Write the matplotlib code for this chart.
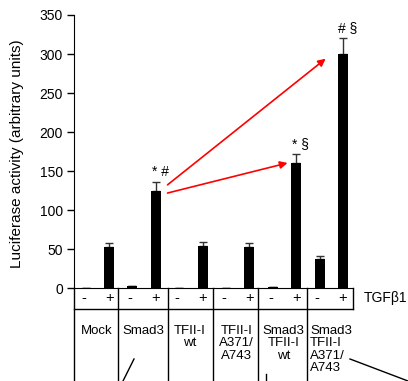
import numpy as np
import matplotlib.pyplot as plt
from matplotlib.lines import Line2D

plt.rcParams['font.family'] = ['Liberation Sans', 'DejaVu Sans']

# --- data ---
conditions = ['Mock', 'Smad3', 'TFII-I\nwt', 'TFII-I\nA371/\nA743',
              'Smad3\nTFII-I\nwt', 'Smad3\nTFII-I\nA371/\nA743']
tgf_minus = [0.5, 2.5, 1.0, 1.0, 2.0, 37]
tgf_plus = [52.5, 124, 54, 53, 160.5, 300.5]
err_minus = [0, 0, 0, 0, 0, 4]
err_plus = [5, 11.5, 5, 4.5, 11.5, 20]
marks = ['', '* #', '', '', '* §', '# §']
yticks = [0, 50, 100, 150, 200, 250, 300, 350]

n = len(conditions)
values = np.ravel(np.column_stack([tgf_minus, tgf_plus]))
errors = np.ravel(np.column_stack([err_minus, err_plus]))
xpos = np.arange(2 * n)

fig = plt.figure(figsize=(4.08, 3.81), dpi=100)
ax = fig.add_axes([74 / 408, 1 - 288.3 / 381, 304 / 408, 273.3 / 381])

ax.bar(xpos, values, width=0.43, color='black', zorder=2)
ax.errorbar(xpos, values, yerr=[np.zeros_like(errors), errors], fmt='none',
            ecolor='#333333', elinewidth=1, capsize=3, capthick=1, zorder=1)

ax.set_xlim(-0.5, 12.5)
ax.set_ylim(0, 350)
ax.set_yticks(yticks)
ax.set_xticks([])
ax.tick_params(axis='y', length=5, width=1, labelsize=10, pad=3)
for s in ['top', 'right']:
    ax.spines[s].set_visible(False)
ax.spines['bottom'].set_bounds(-0.5, 11.45)
ax.set_ylabel('Luciferase activity (arbitrary units)', fontsize=11)
ax.yaxis.set_label_coords(-0.165, 0.493)

# significance marks
for i, m in enumerate(marks):
    if m:
        x = 2 * i + 1
        ax.text(x + 0.2, values[x] + errors[x] + 4, m, ha='center', va='bottom',
                fontsize=10)

# red arrows
arr = dict(arrowstyle='-|>', color='red', lw=1.2, mutation_scale=11,
           shrinkA=0, shrinkB=0)
ax.annotate('', xy=(10.26, 294), xytext=(3.5, 132.5), arrowprops=arr)
ax.annotate('', xy=(8.63, 160.5), xytext=(3.5, 122), arrowprops=arr)

# table under the axis
kw = dict(color='black', lw=1, clip_on=False)
row1, bottom = -26.3, -120
ax.plot([-0.5, 11.45], [row1, row1], **kw)
ax.plot([11.45, 11.45], [0, row1], **kw)
bounds = [-0.5, 1.4, 3.5, 5.45, 7.35, 9.45]
for b in bounds:
    ax.plot([b, b], [0, bottom], **kw)
for k, x in enumerate(xpos):
    ax.text(x - 0.1 * (k % 2 == 0), -12.5, '-' if k % 2 == 0 else '+',
            ha='center', va='center', fontsize=10.5, clip_on=False)
ax.text(11.88, -12.5, 'TGFβ1', ha='left', va='center', fontsize=10,
        clip_on=False)
for i, lab in enumerate(conditions):
    if i == n - 1:
        ax.text(9.6, -47, lab, ha='left', va='top', fontsize=9.5,
                linespacing=1.05, multialignment='left', clip_on=False)
    else:
        ax.text(2 * i + 0.45, -47, lab, ha='center', va='top', fontsize=9.5,
                linespacing=1.05, multialignment='center', clip_on=False)

# stray strokes at the cropped bottom edge
for (x0, y0), (x1, y1) in [((123, 381), (134, 359)), ((266, 374), (266, 381)),
                           ((350, 359), (408, 381))]:
    fig.add_artist(Line2D([x0 / 408, x1 / 408], [1 - y0 / 381, 1 - y1 / 381],
                          color='black', lw=1))

fig.savefig('out.png', dpi=100)
